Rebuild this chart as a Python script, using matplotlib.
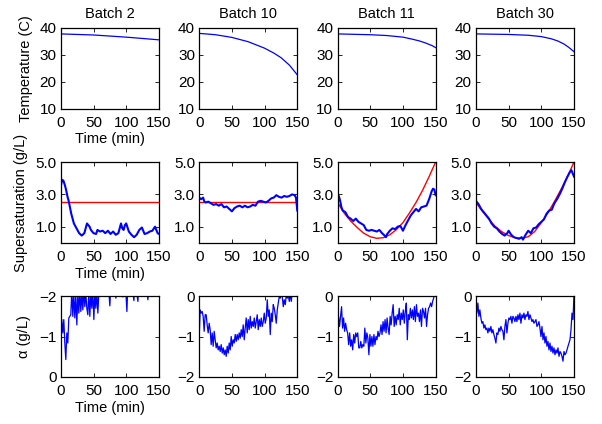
import numpy as np
import matplotlib

matplotlib.use("Agg")
import matplotlib.pyplot as plt

plt.rcParams["font.family"] = ["Liberation Sans", "DejaVu Sans"]
plt.rcParams["font.size"] = 10.5
plt.rcParams["axes.linewidth"] = 0.9

batches = ["Batch 2", "Batch 10", "Batch 11", "Batch 30"]

# Temperature (C)
temp_t = {
    "Batch 2": [0, 50, 100, 150],
    "Batch 10": [0, 25, 50, 75, 100, 114, 125, 138, 150],
    "Batch 11": [0, 50, 75, 100, 115, 125, 135, 145, 150],
    "Batch 30": [0, 50, 80, 100, 115, 125, 135, 142, 150],
}
temp_v = {
    "Batch 2": [37.8, 37.4, 36.6, 35.6],
    "Batch 10": [38.0, 37.5, 36.5, 34.9, 32.5, 30.7, 29.0, 26.2, 22.6],
    "Batch 11": [37.8, 37.5, 37.2, 36.6, 35.8, 35.2, 34.4, 33.4, 32.7],
    "Batch 30": [37.8, 37.6, 37.3, 36.8, 36.0, 35.2, 34.0, 32.8, 31.2],
}

# Supersaturation (g/L), measured
ss_t = {
    "Batch 2": [0, 2, 4, 6, 8, 10, 12, 14, 16, 18, 20, 24, 28, 32, 36, 38, 40, 42, 44, 46,
                50, 54, 56, 60, 64, 68, 72, 76, 80, 84, 88, 92, 94, 96, 98, 100, 104, 108,
                112, 116, 120, 124, 128, 132, 136, 140, 144, 146, 148, 150],
    "Batch 10": [0, 3, 6, 8, 10, 14, 18, 22, 26, 30, 34, 38, 42, 46, 50, 54, 58, 62, 66, 70,
                 74, 78, 82, 86, 90, 94, 98, 102, 106, 110, 114, 118, 122, 126, 130, 134,
                 138, 142, 146, 148, 150],
    "Batch 11": [0, 2, 4, 6, 8, 12, 16, 20, 24, 28, 32, 36, 40, 44, 48, 52, 56, 60, 64, 68,
                 72, 74, 76, 80, 84, 88, 92, 96, 100, 104, 108, 112, 116, 120, 124, 128, 132,
                 136, 140, 144, 146, 148, 150],
    "Batch 30": [0, 4, 8, 12, 16, 20, 24, 28, 32, 36, 40, 44, 48, 50, 54, 58, 62, 66, 70, 72,
                 76, 80, 84, 88, 92, 96, 100, 104, 108, 112, 116, 120, 124, 128, 132, 136,
                 140, 144, 146, 148, 150],
}
ss_v = {
    "Batch 2": [3.5, 3.9, 3.85, 3.6, 3.3, 2.9, 2.6, 2.2, 1.8, 1.5, 1.2, 0.9, 0.6, 0.45, 0.6,
                0.9, 1.2, 1.1, 1.0, 0.8, 0.6, 0.55, 0.8, 0.7, 0.75, 0.6, 0.75, 0.55, 0.7, 0.5,
                0.6, 1.2, 0.9, 0.8, 1.1, 1.2, 0.7, 0.5, 0.35, 0.5, 0.8, 0.95, 0.55, 0.6, 0.7,
                0.75, 1.0, 0.8, 0.6, 0.55],
    "Batch 10": [2.8, 2.7, 2.8, 2.55, 2.5, 2.55, 2.45, 2.35, 2.4, 2.3, 2.4, 2.2, 2.25, 2.1,
                 1.95, 2.15, 2.25, 2.3, 2.2, 2.3, 2.2, 2.25, 2.35, 2.3, 2.55, 2.6, 2.55, 2.5,
                 2.6, 2.75, 2.8, 2.95, 2.85, 2.8, 2.9, 2.85, 2.9, 3.0, 2.95, 2.8, 2.0],
    "Batch 11": [2.8, 2.9, 2.6, 2.2, 2.0, 1.9, 1.6, 1.5, 1.35, 1.5, 1.3, 1.2, 1.1, 0.8, 0.75,
                 0.8, 0.75, 0.7, 0.8, 0.6, 0.45, 0.35, 0.55, 0.75, 0.9, 0.85, 1.0, 1.05, 0.75,
                 1.1, 1.4, 1.7, 1.9, 2.1, 1.95, 2.2, 2.25, 2.3, 2.7, 3.2, 3.35, 3.3, 2.95],
    "Batch 30": [2.6, 2.4, 2.1, 1.9, 1.7, 1.5, 1.2, 1.0, 0.9, 0.7, 0.55, 0.45, 0.6, 0.75, 0.5,
                 0.35, 0.3, 0.25, 0.35, 0.2, 0.5, 0.75, 0.6, 0.9, 0.95, 1.15, 1.3, 1.45, 1.8,
                 2.0, 2.05, 2.45, 2.7, 3.0, 3.35, 3.75, 4.1, 4.4, 4.5, 4.3, 4.1],
}

# Supersaturation set-point (red)
sp_t = {
    "Batch 2": [0, 150],
    "Batch 10": [0, 150],
    "Batch 11": [0, 10, 20, 30, 40, 50, 60, 70, 80, 90, 100, 110, 120, 130, 140, 150],
    "Batch 30": [0, 10, 20, 30, 40, 50, 60, 70, 80, 90, 100, 110, 120, 130, 140, 150],
}
sp_v = {
    "Batch 2": [2.55, 2.55],
    "Batch 10": [2.55, 2.55],
    "Batch 11": [2.5, 1.85, 1.35, 0.95, 0.6, 0.38, 0.28, 0.32, 0.5, 0.82, 1.25, 1.85, 2.5,
                 3.25, 4.1, 5.0],
    "Batch 30": [2.5, 1.95, 1.45, 1.0, 0.68, 0.45, 0.32, 0.28, 0.38, 0.7, 1.25, 1.85, 2.55,
                 3.3, 4.1, 5.0],
}

# alpha (g/L), sampled evenly over 0-150 min
alpha_v = {
    "Batch 2": [-0.67, -1.42, -1.09, -1.42, -0.84, -0.43, -1.09, -0.84, -1.46, -1.50, -1.54,
                -2.16, -1.50, -2.07, -1.46, -2.03, -1.29, -2.07, -1.58, -2.12, -1.62, -2.07,
                -1.66, -2.16, -1.74, -2.07, -1.70, -1.54, -2.12, -1.50, -2.07, -1.70, -2.16,
                -1.42, -2.07, -1.70, -2.12, -1.58, -2.07, -1.99, -2.16,
                -2.2, -2.35, -2.25, -2.4, -2.3, -2.2, -2.35, -2.1, -1.76, -2.3, -2.4, -2.3,
                -2.25, -2.1, -1.95, -2.3, -2.4, -2.3, -2.2, -2.35, -2.05, -1.98, -2.3, -2.4,
                -2.1, -1.62, -2.3, -2.4, -2.3, -2.2, -2.35, -2.1, -1.89, -2.3, -2.4, -2.05,
                -1.87, -2.3, -2.4, -2.3, -2.25, -2.4, -2.3, -2.35, -2.2, -2.1, -1.91, -2.3,
                -2.4, -2.3, -2.35, -2.2, -2.4, -2.3, -2.35, -2.25, -2.3, -2.3],
    "Batch 10": [-1.04, -0.34, -0.42, -0.38, -0.50, -0.87, -0.46, -0.46, -0.71, -0.91, -0.67,
                 -0.83, -1.20, -0.91, -1.24, -0.87, -1.08, -1.28, -1.16, -1.33, -1.24, -1.37,
                 -1.20, -1.41, -1.28, -1.45, -1.33, -1.49, -1.24, -1.41, -1.16, -1.33, -1.00,
                 -1.24, -1.08, -1.16, -0.95, -1.12, -0.95, -1.08, -0.91, -1.04, -0.83, -1.00,
                 -0.71, -1.08, -0.79, -0.54, -0.91, -0.58, -0.83, -0.50, -0.79, -0.63, -0.75,
                 -0.54, -0.79, -0.63, -0.46, -0.83, -0.58, -0.75, -0.54, -0.75, -0.63, -0.42,
                 -0.67, -0.54, -0.09, -0.50, -0.34, -0.95, -0.42, -0.63, -0.21, -0.30, -0.46,
                 -0.67, -0.34, -0.17, -0.01, -0.05, 0.03, -0.01, -0.26, -0.09, -0.21, 0.03,
                 -0.05, 0.03, -0.13, 0.07, -0.13, 0.10, 0.20, 0.12, 0.25, 0.15, 0.20],
    "Batch 11": [-0.87, -0.50, -0.75, -0.50, -0.26, -0.79, -0.54, -0.87, -0.67, -0.83, -0.91,
                 -1.20, -0.91, -1.24, -1.08, -1.33, -0.95, -1.16, -0.91, -1.00, -0.91, -1.28,
                 -1.28, -1.12, -1.28, -1.20, -1.24, -0.79, -1.16, -0.91, -1.04, -1.45, -0.95,
                 -1.24, -1.00, -1.24, -0.95, -1.20, -1.00, -1.08, -0.87, -1.00, -0.91, -0.71,
                 -0.95, -0.63, -0.87, -0.58, -0.91, -0.54, -0.79, -0.95, -0.50, -0.71, -0.42,
                 -0.21, -0.75, -0.50, -0.71, -0.46, -0.58, -0.30, -0.71, -0.42, -0.58, -0.34,
                 -0.67, -0.38, -0.17, -1.08, -0.46, -0.58, -0.30, -0.54, -0.34, -0.58, -0.26,
                 -0.63, -0.21, -0.50, -0.42, -0.63, -0.34, -0.75, -0.30, -0.38, -0.54, -0.30,
                 -0.75, -0.46, -0.30, -0.26, -0.17, -0.26, -0.13, -0.05, 0.07, 0.12],
    "Batch 30": [-0.01, -0.42, -0.17, -0.50, -0.34, -0.54, -0.67, -0.63, -0.79, -0.71, -0.83,
                 -0.79, -0.91, -0.79, -0.87, -0.75, -0.91, -0.83, -0.95, -1.04, -1.16, -0.91,
                 -0.95, -0.79, -0.87, -0.75, -0.83, -0.87, -1.08, -0.75, -0.58, -0.91, -0.67,
                 -0.54, -0.58, -0.50, -0.67, -0.50, -0.54, -0.63, -0.50, -0.63, -0.46, -0.58,
                 -0.42, -0.67, -0.46, -0.54, -0.42, -0.58, -0.46, -0.50, -0.38, -0.58, -0.46,
                 -0.54, -0.63, -0.58, -0.67, -0.63, -0.58, -0.75, -0.71, -0.63, -0.79, -1.00,
                 -0.75, -1.08, -0.91, -1.16, -1.00, -1.24, -1.12, -1.33, -1.16, -1.37, -1.24,
                 -1.41, -1.28, -1.45, -1.33, -1.41, -1.28, -1.49, -1.37, -1.41, -1.49, -1.61,
                 -1.37, -1.45, -1.41, -1.33, -1.24, -1.16, -1.08, -0.83, -0.42, -0.58, 0.07],
}

BLUE = "#0000ff"
RED = "#ff0000"

fig, axes = plt.subplots(3, 4, figsize=(6.02, 4.24), dpi=100)
fig.subplots_adjust(left=0.101, right=0.9535, top=0.934, bottom=0.111,
                    wspace=0.41, hspace=0.66)

for j, b in enumerate(batches):
    ax_t, ax_s, ax_a = axes[0, j], axes[1, j], axes[2, j]

    ax_t.plot(temp_t[b], temp_v[b], color=BLUE, lw=0.9)
    ax_t.set_ylim(10, 40)
    ax_t.set_yticks([10, 20, 30, 40])
    ax_t.set_title(b, fontsize=10.5, pad=7)

    ax_s.plot(sp_t[b], sp_v[b], color=RED, lw=1.0)
    ax_s.plot(ss_t[b], ss_v[b], color=BLUE, lw=1.5)
    ax_s.set_ylim(0, 5)
    ax_s.set_yticks([1, 3, 5])
    ax_s.set_yticklabels(["1.0", "3.0", "5.0"])

    av = alpha_v[b]
    ax_a.plot(np.linspace(0, 150, len(av)), av, color=BLUE, lw=0.9)
    if b == "Batch 2":
        ax_a.set_ylim(0, -2)
    else:
        ax_a.set_ylim(-2, 0)
    ax_a.set_yticks([-2, -1, 0])

    for ax in (ax_t, ax_s, ax_a):
        ax.set_xlim(0, 150)
        ax.set_xticks([0, 50, 100, 150])
        ax.tick_params(direction="in", top=True, right=True, length=3,
                       width=0.6, labelsize=11)
        ax.tick_params(axis="x", pad=5)
        ax.tick_params(axis="y", pad=3)

axes[0, 0].set_ylabel("Temperature (C)")
axes[1, 0].set_ylabel("Supersaturation (g/L)")
axes[2, 0].set_ylabel("α (g/L)")
axes[0, 0].yaxis.set_label_coords(-0.28, 0.5)
axes[1, 0].yaxis.set_label_coords(-0.33, 0.5)
axes[2, 0].yaxis.set_label_coords(-0.30, 0.5)
for i in range(3):
    axes[i, 0].set_xlabel("Time (min)", labelpad=2)

fig.savefig("out.png", dpi=100)
